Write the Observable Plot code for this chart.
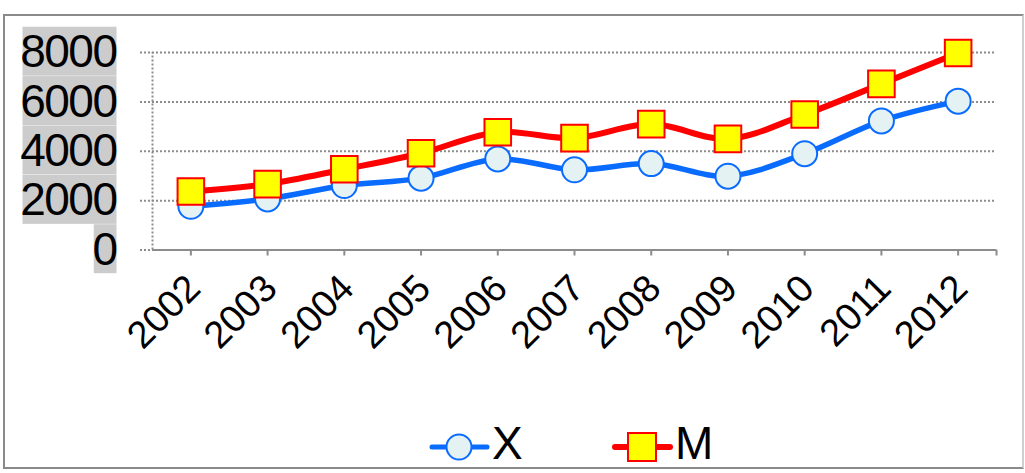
<!DOCTYPE html>
<html><head><meta charset="utf-8">
<script src="https://cdn.jsdelivr.net/npm/d3@7"></script>
<script src="https://cdn.jsdelivr.net/npm/@observablehq/plot@0.6"></script>
<style>
body{margin:0;background:#fff;font-family:"Liberation Sans",Arial,sans-serif;}
#frame{position:absolute;left:3px;top:14px;width:1021px;height:455px;border:2px solid #8a8a8a;border-right-color:#cfcfcf;box-sizing:border-box;}
#chart{position:absolute;left:0;top:0;}
#legend{position:absolute;left:0;top:412px;}
</style></head>
<body>
<div id="frame"></div>
<div id="chart"></div>
<div id="legend"></div>
<script>
const years = [2002, 2003, 2004, 2005, 2006, 2007, 2008, 2009, 2010, 2011, 2012];
const seriesX = [1770, 2070, 2610, 2910, 3690, 3250, 3500, 2990, 3900, 5230, 6030];
const seriesM = [2370, 2670, 3270, 3920, 4770, 4530, 5100, 4500, 5490, 6730, 7980];
const yTicks = [0, 2000, 4000, 6000, 8000];
const seriesNames = ["X", "M"];

const data = years.map((year, i) => ({year, X: seriesX[i], M: seriesM[i]}));
const grid = "#8c8c8c";
const blue = "#0a6cff", red = "#ff0000";
const xEnd = years[years.length - 1] + 0.5;

const chart = Plot.plot({
  width: 1025, height: 400,
  marginLeft: 152, marginRight: 29, marginTop: 52, marginBottom: 150.5,
  style: {fontFamily: "Liberation Sans, Arial, sans-serif", background: "transparent", color: "#000", overflow: "visible"},
  x: {type: "linear", domain: [years[0] - 0.5, xEnd], axis: null, label: null},
  y: {domain: [0, 8000], axis: null, label: null},
  marks: [
    Plot.ruleY(yTicks, {stroke: grid, strokeWidth: 2, strokeDasharray: "2,2", insetLeft: -12, insetRight: 1}),
    Plot.ruleX([years[0] - 0.5], {y1: 0, y2: 8000, stroke: grid, strokeWidth: 2, strokeDasharray: "2,2"}),
    Plot.ruleY([0], {stroke: grid, strokeWidth: 2}),
    Plot.axisX([...years, xEnd], {tickSize: 6, stroke: grid, strokeWidth: 2, label: null, tickFormat: () => ""}),
    Plot.axisX(years, {
      tickSize: 0, tickPadding: 32, dx: 3, tickRotate: -45, fontSize: 38, label: null,
      tickFormat: d => String(d)
    }),
    Plot.axisY(yTicks, {tickSize: 0, tickPadding: 36, fontSize: 46, label: null, tickFormat: d => String(d)}),
    Plot.line(data, {x: "year", y: "X", stroke: blue, strokeWidth: 5.5, curve: "catmull-rom", strokeLinejoin: "round"}),
    Plot.dot(data, {x: "year", y: "X", r: 12.5, fill: "#e4f2f4", stroke: blue, strokeWidth: 2}),
    Plot.line(data, {x: "year", y: "M", stroke: red, strokeWidth: 6, curve: "catmull-rom", strokeLinejoin: "round"}),
    Plot.dot(data, {x: "year", y: "M", r: 15, symbol: "square", fill: "#ffff00", stroke: red, strokeWidth: 2})
  ]
});
document.getElementById("chart").appendChild(chart);

// gray backgrounds behind y tick labels
chart.querySelectorAll('[aria-label="y-axis tick label"] text').forEach(t => {
  t.style.letterSpacing = "-1.5px";
  const b = t.getBBox();
  const w = 95 * String(t.textContent).length / 4 - 1;
  const r = document.createElementNS("http://www.w3.org/2000/svg", "rect");
  r.setAttribute("x", b.x + b.width - w);
  r.setAttribute("width", w);
  r.setAttribute("y", b.y + 1.5);
  r.setAttribute("height", b.height - 3);
  r.setAttribute("fill", "#cccccc");
  r.setAttribute("stroke", "none");
  if (t.getAttribute("transform")) r.setAttribute("transform", t.getAttribute("transform"));
  t.parentNode.insertBefore(r, t);
});

// legend
const lg = d3.select("#legend").append("svg").attr("width", 1025).attr("height", 58)
  .style("font-family", "Liberation Sans, Arial, sans-serif").style("overflow", "visible");
const gx = lg.append("g");
gx.append("line").attr("x1", 432).attr("x2", 487).attr("y1", 35).attr("y2", 35).attr("stroke", blue).attr("stroke-width", 5).attr("stroke-linecap", "round");
gx.append("circle").attr("cx", 459).attr("cy", 35).attr("r", 12.5).attr("fill", "#e4f2f4").attr("stroke", blue).attr("stroke-width", 2);
gx.append("text").attr("x", 492).attr("y", 46.5).attr("font-size", 46).text(seriesNames[0]);
const gm = lg.append("g");
gm.append("line").attr("x1", 615).attr("x2", 670).attr("y1", 35).attr("y2", 35).attr("stroke", red).attr("stroke-width", 6).attr("stroke-linecap", "round");
gm.append("rect").attr("x", 628).attr("y", 21).attr("width", 28).attr("height", 28).attr("fill", "#ffff00").attr("stroke", red).attr("stroke-width", 2);
gm.append("text").attr("x", 675).attr("y", 46.5).attr("font-size", 46).text(seriesNames[1]);
</script>
</body></html>
